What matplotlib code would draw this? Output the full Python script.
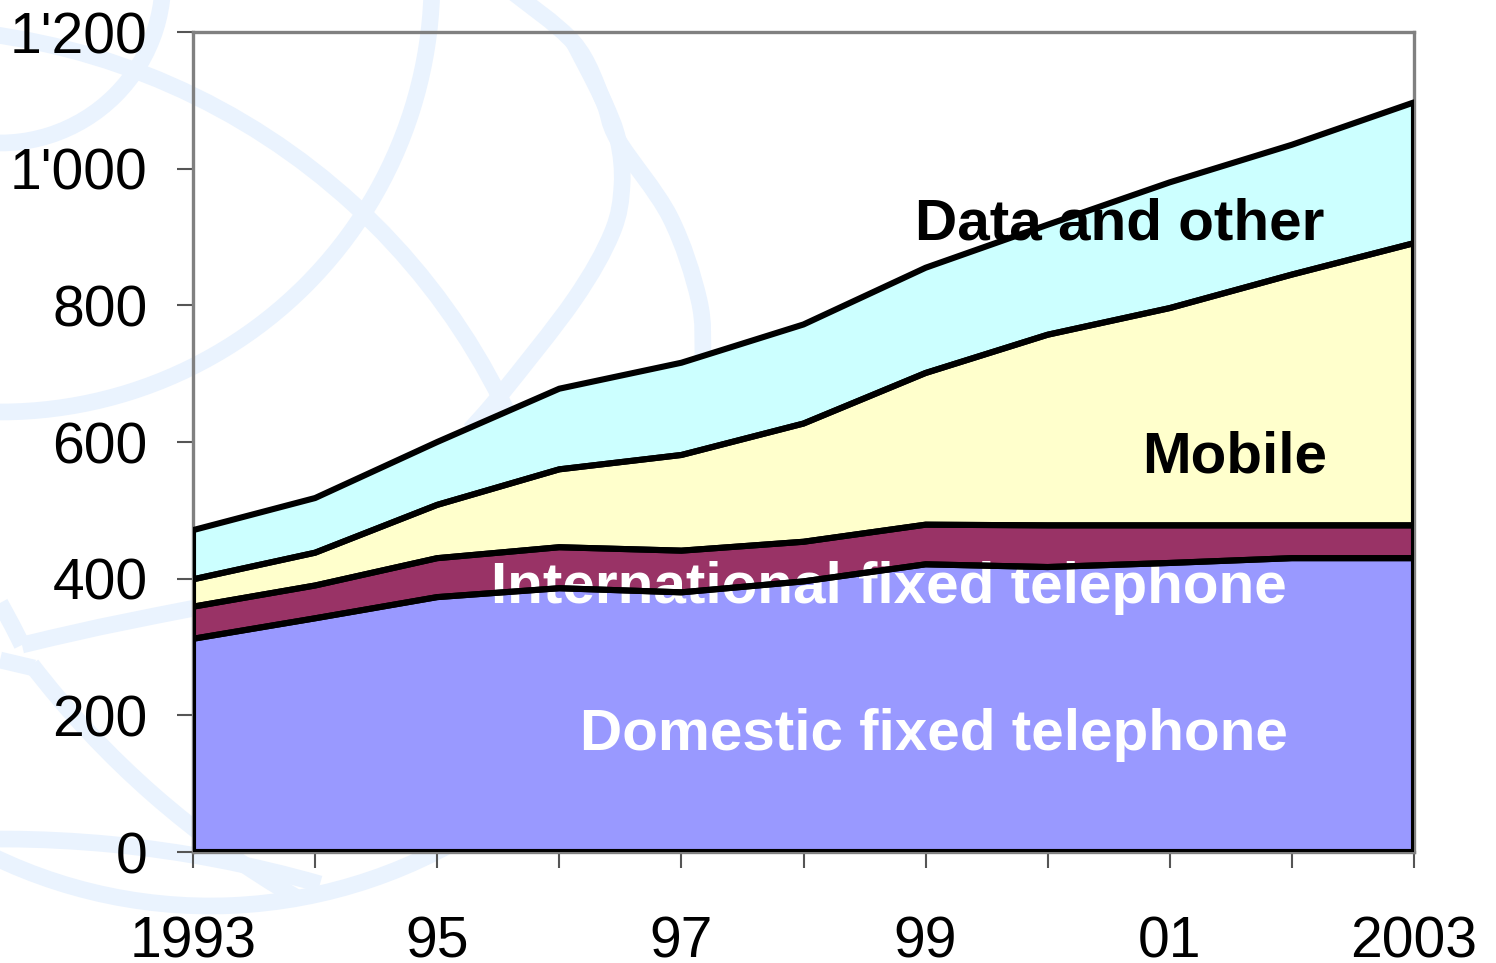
import matplotlib
matplotlib.use("Agg")
import matplotlib.pyplot as plt
from matplotlib.patches import Arc, PathPatch
from matplotlib.path import Path

# ---------------- data ----------------
years = [1993, 1994, 1995, 1996, 1997, 1998, 1999, 2000, 2001, 2002, 2003]
domestic_fixed = [312, 342, 373, 386, 380, 396, 421, 417, 423, 430, 430]
international_fixed = [47, 48, 57, 60, 61, 58, 58, 61, 55, 48, 48]
mobile = [40, 48, 78, 114, 140, 173, 222, 279, 318, 367, 413]
data_other = [72, 80, 92, 118, 135, 145, 154, 161, 184, 190, 206]

series_names = ["Domestic fixed telephone", "International fixed telephone",
                "Mobile", "Data and other"]
series_colors = ["#9999FF", "#993366", "#FFFFCC", "#CCFFFF"]

x_tick_positions = years
x_tick_labels = ["1993", "", "95", "", "97", "", "99", "", "01", "", "2003"]
y_ticks = [0, 200, 400, 600, 800, 1000, 1200]
y_tick_labels = ["0", "200", "400", "600", "800", "1'000", "1'200"]

FONT = "Liberation Sans"
W, H = 1496, 963

fig = plt.figure(figsize=(W / 100, H / 100), dpi=100)
fig.patch.set_facecolor("white")

# ---------------- decorative globe background ----------------
bg = fig.add_axes([0, 0, 1, 1], zorder=0)
bg.set_xlim(0, W)
bg.set_ylim(H, 0)
bg.axis("off")
gcol = "#EAF3FE"
glw = 12


def smooth_path(pts):
    verts = [pts[0]]
    codes = [Path.MOVETO]
    n = len(pts)
    for i in range(n - 1):
        p0 = pts[i - 1] if i > 0 else pts[i]
        p1 = pts[i]
        p2 = pts[i + 1]
        p3 = pts[i + 2] if i + 2 < n else pts[i + 1]
        c1 = (p1[0] + (p2[0] - p0[0]) / 6, p1[1] + (p2[1] - p0[1]) / 6)
        c2 = (p2[0] - (p3[0] - p1[0]) / 6, p2[1] - (p3[1] - p1[1]) / 6)
        verts += [c1, c2, p2]
        codes += [Path.CURVE4] * 3
    return Path(verts, codes)


arcs = [
    # (cx, cy, r, theta1, theta2) in figure pixels (y down)
    (0, -20, 163, -10, 100),
    (0, -20, 432, -10, 100),
    (-100, 700, 672, -85, -10),
    (752, 112, 908, 120, 142.5),
    (210, 406, 500, 55, 120),
    (0, 2000, 1161, -95, -74),
]
for cx, cy, r, t1, t2 in arcs:
    bg.add_patch(Arc((cx, cy), 2 * r, 2 * r, theta1=t1, theta2=t2,
                     color=gcol, lw=glw, capstyle="butt"))

bands = [
    [(510, -10), (574, 43), (603, 100), (618, 140), (622, 185), (612, 233),
     (574, 300), (502, 393), (470, 430)],
    [(574, 43), (603, 100), (618, 140), (670, 217), (699, 300), (703, 360),
     (703, 430)],
    [(0, 603), (13, 627), (22, 645)],
    [(22, 645), (100, 627), (200, 607)],
    [(0, 660), (34, 668)],
]
for pts in bands:
    bg.add_patch(PathPatch(smooth_path(pts), facecolor="none", edgecolor=gcol,
                           lw=glw, capstyle="butt", joinstyle="round"))

# ---------------- main chart ----------------
ax = fig.add_axes([193 / W, (H - 852) / H, 1221 / W, 820 / H], zorder=1)
ax.set_facecolor("none")

layers = [domestic_fixed, international_fixed, mobile, data_other]
lower = [0] * len(years)
bounds = []
for vals in layers:
    upper = [a + b for a, b in zip(lower, vals)]
    bounds.append((lower, upper))
    lower = upper

for (lo, up), col, name in zip(bounds, series_colors, series_names):
    ax.fill_between(years, lo, up, facecolor=col, edgecolor="none", zorder=1,
                    label=name)
for lo, up in bounds:
    ax.fill_between(years, lo, up, facecolor="none", edgecolor="black",
                    lw=4.4, joinstyle="round", zorder=4)

ax.set_xlim(1993, 2003)
ax.set_ylim(0, 1200)
ax.set_xticks(x_tick_positions)
ax.set_xticklabels(x_tick_labels)
ax.set_yticks(y_ticks)
ax.set_yticklabels(y_tick_labels)

for s in ax.spines.values():
    s.set_color("#808080")
    s.set_linewidth(2.4)
    s.set_zorder(3)

ax.tick_params(axis="both", direction="out", length=11.5, width=1.5,
               color="#555555", labelsize=41)
ax.tick_params(axis="x", pad=34)
ax.tick_params(axis="y", pad=21)
for lab in ax.get_xticklabels() + ax.get_yticklabels():
    lab.set_fontfamily(FONT)

# ---------------- in-chart labels ----------------
label_specs = [
    ("Data and other", 2002.27, 896, "black"),
    ("Mobile", 2002.29, 555, "black"),
    ("International fixed telephone", 2001.96, 364, "white"),
    ("Domestic fixed telephone", 2001.97, 149, "white"),
]
for txt, xx, yy, col in label_specs:
    ax.text(xx, yy, txt, ha="right", va="baseline", color=col,
            fontsize=42, fontweight="bold", family=FONT, zorder=3)

fig.savefig("out.png", dpi=100, facecolor="white")
